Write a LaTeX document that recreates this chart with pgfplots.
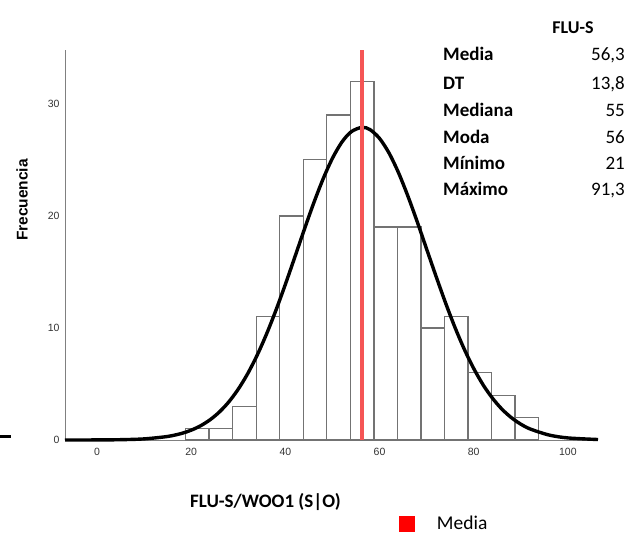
\documentclass[border=0pt]{standalone}
\usepackage{fontspec}
\setmainfont{Carlito}
\setsansfont{Liberation Sans}
\usepackage{pgfplots}
\pgfplotsset{compat=1.18}
\definecolor{meanred}{RGB}{245,85,85}
\definecolor{bargray}{RGB}{115,115,115}
\begin{document}
\begin{tikzpicture}[x=1pt,y=1pt]
\path[use as bounding box] (-65,-99) rectangle (563,440);
\begin{axis}[
    scale only axis,
    width=533pt, height=390pt,
    xmin=-6.8, xmax=106.4,
    ymin=0, ymax=34.8,
    axis x line=bottom, axis y line=left,
    axis line style={-, draw=gray, line width=1pt},
    xtick={0,20,...,100}, ytick={0,10,20,30},
    major tick length=0pt,
    /pgf/number format/assume math mode=true,
    ticklabel style={font=\sffamily\fontsize{10.5}{12}\selectfont, text=black!80},
    xticklabel style={yshift=-5pt},
    yticklabel style={xshift=-2pt},
    legend style={draw=none, fill=none, at={(rel axis cs:0.627,-0.215)}, anchor=west,
        font=\fontsize{19.5}{22}\selectfont, inner sep=0pt},
    legend cell align=left,
    clip=false,
]
\addplot[ybar interval, fill=white, draw=bargray, line width=1.3pt, forget plot] coordinates {
(18.8,1) (23.8,1) (28.8,3) (33.8,11) (38.8,20) (43.8,25) (48.8,29) (53.8,32)
(58.8,19) (63.8,19) (68.8,10) (73.8,11) (78.8,6) (83.8,4) (88.8,2) (93.8,2)};
\addplot[black, line width=3.4pt, smooth, forget plot] coordinates {
(-6.8,0.001) (0,0.007) (5,0.028) (10,0.100) (15,0.317) (18,0.593) (20,0.877)
(22,1.271) (24,1.803) (26,2.505) (28,3.406) (30,4.54) (32,5.92) (34,7.56)
(36,9.455) (38,11.58) (40,13.888) (42,16.31) (44,18.754) (46,21.12) (48,23.28)
(50,25.14) (52,26.58) (54,27.51) (56.3,27.90) (58,27.69) (60,26.91) (62,25.62)
(64,23.88) (66,21.79) (68,19.48) (70,17.04) (72,14.61) (74,12.26) (76,10.07)
(78,8.10) (80,6.384) (82,4.92) (84,3.722) (86,2.75) (88,1.995) (90,1.414)
(92,0.983) (96,0.445) (100,0.185) (106.4,0.043)};
\addplot[meanred, line width=3.6pt,
    legend image code/.code={\fill[red] (0.04cm,-0.21cm) rectangle (0.46cm,0.21cm);}]
    coordinates {(56.3,0) (56.3,34.8)};
\addlegendentry{\hspace{20pt}Media}
\end{axis}
\draw[black, line width=3pt] (-65,3.5) -- (-54,3.5);
\node[rotate=90, font=\sffamily\bfseries\fontsize{15.5}{18}\selectfont] at (-43,240) {Frecuencia};
\node[font=\bfseries\fontsize{18}{21}\selectfont] at (508,412) {FLU-S};
\node[anchor=west, inner sep=0pt, font=\bfseries\fontsize{19}{22}\selectfont] at (125,-62) {FLU-S/WOO1 (S|O)};
\foreach \lab/\val/\yy in {Media/{56,3}/385, DT/{13,8}/356, Mediana/55/330, Moda/56/303, Mínimo/21/277, Máximo/{91,3}/251}{
  \node[anchor=base west, inner sep=0pt, font=\bfseries\fontsize{19}{22}\selectfont] at (378,\yy-6) {\lab};
  \node[anchor=base east, inner sep=0pt, font=\fontsize{19}{22}\selectfont] at (560,\yy-6) {\val};
}
\end{tikzpicture}
\end{document}
